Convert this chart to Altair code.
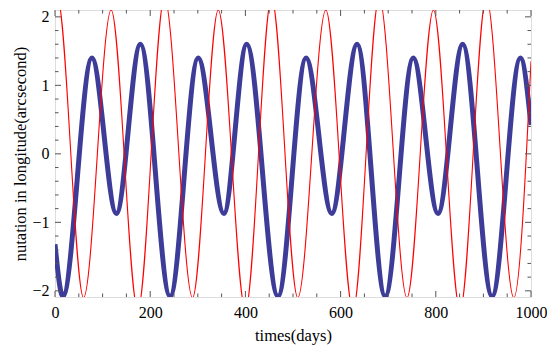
import altair as alt
import pandas as pd

# ---- data (days, arcseconds) ----
# blue (thick) curve: start, alternating extrema, end
blue_t = [0, 16.6, 77.5, 129, 179.4, 241.8, 300.8, 354.8, 402.7, 468.5,
          527.4, 581.4, 634.7, 693.7, 752.6, 804.6, 856.5, 918.3, 977.8, 1000]
blue_v = [-1.32, -2.08, 1.40, -0.87, 1.60, -2.08, 1.40, -0.87, 1.60, -2.08,
          1.40, -0.87, 1.60, -2.08, 1.40, -0.87, 1.60, -2.08, 1.40, 0.42]

# red (thin) curve: start, alternating extrema, end
red_t = [0, 5, 60, 118, 174, 230, 289, 343, 400, 455,
         510, 569, 626, 681, 739.5, 795, 851, 906, 964, 1000]
red_v = [2.27, 2.28, -2.10, 2.10, -2.28, 2.28, -2.10, 2.10, -2.28, 2.28,
         -2.10, 2.10, -2.28, 2.28, -2.10, 2.10, -2.28, 2.28, -2.10, 1.35]

x_major = [0, 200, 400, 600, 800, 1000]
x_minor = [v for v in range(0, 1001, 50) if v not in x_major]
y_major = [-2, -1, 0, 1, 2]
y_minor = [round(-2 + 0.2 * i, 1) for i in range(21) if round(-2 + 0.2 * i, 1) not in y_major]

x_title = "times(days)"
y_title = "nutation in longitude(arcsecond)"

W, H = 476, 287
FONT = "Liberation Serif"

xs = alt.Scale(domain=[0, 1000], nice=False, zero=False)
ys = alt.Scale(domain=[-2.09, 2.1], nice=False, zero=False)

blue = pd.DataFrame({"t": blue_t, "v": blue_v})
red = pd.DataFrame({"t": red_t, "v": red_v})

x_axis = alt.Axis(values=x_major, format="d", ticks=False, domain=False, grid=False,
                  labelFont=FONT, labelFontSize=16, labelColor="black", labelPadding=7,
                  labelFlush=False,
                  titleFont=FONT, titleFontSize=16.5, titleFontWeight="normal",
                  titleColor="black", titlePadding=7)
y_axis = alt.Axis(values=y_major, format="d", ticks=False, domain=False, grid=False,
                  labelFont=FONT, labelFontSize=16, labelColor="black", labelPadding=6,
                  labelFlush=False,
                  titleFont=FONT, titleFontSize=16.5, titleFontWeight="normal",
                  titleColor="black", titlePadding=3)


def X(field="t"):
    return alt.X(f"{field}:Q", scale=xs, axis=x_axis, title=x_title)


def Y(field="v"):
    return alt.Y(f"{field}:Q", scale=ys, axis=y_axis, title=y_title)


blue_line = alt.Chart(blue).mark_line(
    color="#3d3d99", strokeWidth=5, interpolate="monotone", clip=True
).encode(x=X(), y=Y())

red_line = alt.Chart(red).mark_line(
    color="#ff0000", strokeWidth=1.1, interpolate="monotone", clip=True
).encode(x=X(), y=Y())

TICK = "#555555"


def xticks(vals, length):
    df = pd.DataFrame({"t": vals})
    bottom = alt.Chart(df).mark_rule(color=TICK, strokeWidth=1).encode(
        x=X(), y=alt.value(H), y2=alt.value(H - length))
    top = alt.Chart(df).mark_rule(color=TICK, strokeWidth=1).encode(
        x=X(), y=alt.value(0), y2=alt.value(length))
    return [bottom, top]


def yticks(vals, length):
    df = pd.DataFrame({"v": vals})
    left = alt.Chart(df).mark_rule(color=TICK, strokeWidth=1).encode(
        y=Y(), x=alt.value(0), x2=alt.value(length))
    right = alt.Chart(df).mark_rule(color=TICK, strokeWidth=1).encode(
        y=Y(), x=alt.value(W), x2=alt.value(W - length))
    return [left, right]


layers = [blue_line, red_line] + xticks(x_major, 6) + xticks(x_minor, 3.5) \
    + yticks(y_major, 6) + yticks(y_minor, 3.5)

chart = alt.layer(*layers).properties(
    width=W, height=H,
    autosize=alt.AutoSizeParams(type="none"),
    padding={"left": 47, "top": 2, "right": 16, "bottom": 48},
).configure_view(stroke="#666666", strokeWidth=1).configure(background="white")

chart.save("out.html", embed_options={"renderer": "svg", "actions": False})
